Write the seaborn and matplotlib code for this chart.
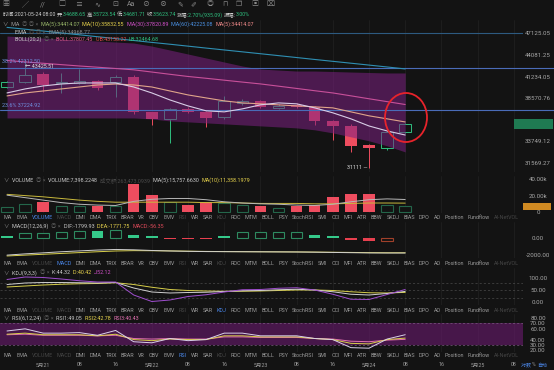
import numpy as np
import pandas as pd
import matplotlib
matplotlib.use("Agg")
import matplotlib.pyplot as plt
import matplotlib.transforms as mtrans
from matplotlib.patches import Ellipse, Rectangle
from matplotlib.ticker import NullLocator, FixedLocator
import seaborn as sns

sns.set_theme(style="dark")
plt.rcParams['font.family'] = ['Roboto', 'Noto Sans CJK SC', 'DejaVu Sans']

# ---------------- data ----------------
opens  = [39930, 40500, 41570, 40430, 40450, 40670, 40500, 41150, 36930, 36180, 37310, 36930,
          36400, 37980, 38250, 37430, 37760, 37550, 35950, 35400, 33390, 33040, 34688.65]
highs  = [40700, 43425.51, 41800, 41690, 42200, 40800, 41500, 41400, 37000, 37450, 37500, 37050,
          38840, 38500, 38400, 37900, 38000, 37700, 36100, 35600, 33500, 34900, 35723.54]
lows   = [39800, 40400, 39320, 39200, 40300, 39600, 38720, 36700, 35510, 33600, 36800, 35290,
          36200, 37800, 37400, 37300, 37400, 35510, 33910, 32660, 31111, 32900, 34681.71]
closes = [40500, 41440, 40180, 40550, 40710, 39850, 41220, 36930, 36180, 37310, 36930, 36280,
          38250, 38290, 37580, 37660, 37550, 35950, 35400, 33280, 33040, 34688.65, 35623.74]

ma5  = [39200, 39690, 40060, 40300, 40430, 40430, 40430, 39930, 39200, 38360, 37660, 37090,
        36970, 37310, 37780, 38010, 37900, 37430, 36860, 36180, 35390, 34850, 34414.07]
ma10 = [38840, 39200, 39440, 39690, 39930, 40180, 40300, 40180, 39930, 39440, 38960, 38600,
        38250, 38010, 37900, 37780, 37660, 37550, 37430, 36970, 36520, 36180, 35832.55]
ma30 = [43340, 43150, 42970, 42790, 42610, 42450, 42280, 42110, 41820, 41530, 41250, 41020,
        40780, 40540, 40310, 40030, 39750, 39470, 39200, 38850, 38500, 38160, 37820.89]
ma60 = [48020, 47750, 47480, 47200, 46930, 46650, 46380, 46110, 45840, 45580, 45310, 45040,
        44780, 44520, 44260, 44000, 43740, 43480, 43230, 42980, 42730, 42480, 42225.08]
boll_upper = [46750, 46610, 46460, 46320, 46180, 46030, 45890, 45750, 45320, 44770, 44220, 43680,
              43140, 42610, 42210, 42080, 41950, 41950, 41890, 41820, 41760, 41700, 41700]
boll_lower = [36280, 36280, 36280, 36280, 36280, 36280, 36280, 36280, 36170, 35950, 35840, 35730,
              35620, 35510, 35400, 35290, 35180, 34970, 34640, 34220, 33800, 33280, 32660]
fib_levels = [47125.05, 42312.50, 37224.92]
price_ticks = [47125.05, 44081.25, 41234.05, 38570.76, 33749.12, 31569.27]
last_price = 35623.74
low_mark = 31111
high_mark = 43425.51

volume_k  = [7.0, 9.9, 12.4, 8.2, 8.2, 8.2, 8.2, 34.2, 21.2, 13.1, 9.1, 12.4,
             11.2, 9.5, 7.5, 5.5, 7.5, 8.5, 18.5, 22.0, 22.0, 8.9, 7.398]
vol_ma5_k  = [21, 18, 15, 12, 10, 9, 8.5, 13.5, 16, 17, 17, 15.5, 13, 11.5, 10.5, 10, 9,
              8.5, 10, 13, 15.5, 16.5, 15.757]
vol_ma10_k = [22, 20.5, 19, 17, 15, 13.5, 12.5, 12.5, 12.5, 12.5, 12.5, 12, 12, 11.5, 11, 11,
              11, 10.5, 10.5, 11, 11.5, 11.5, 11.358]

macd_hist = [165, 510, 590, 710, 790, 790, 920, 380, 210, -90, -90, -90, 210, 640, 640, 640,
             640, 330, 165, -250, -420, -330, -56.35]
macd_hollow = [0, 1, 1, 1, 1, 0, 1, 0, 0, 0, 0, 0, 0, 1, 1, 1, 1, 0, 0, 0, 0, 1, 0]
dif = [-2050, -1900, -1780, -1650, -1550, -1450, -1380, -1420, -1500, -1560, -1600, -1630,
       -1640, -1650, -1660, -1670, -1680, -1700, -1730, -1760, -1790, -1800, -1799.93]
dea = [-2150, -2050, -1950, -1850, -1750, -1650, -1560, -1520, -1530, -1550, -1580, -1610,
       -1630, -1640, -1650, -1660, -1670, -1690, -1710, -1730, -1755, -1770, -1771.75]

k_vals = [72, 78, 80, 80, 79, 78, 80, 58, 42, 38, 40, 41, 44, 47, 48, 51, 53, 50, 43, 33, 30, 36, 44.32]
d_vals = [62, 66, 70, 73, 75, 76, 79, 72, 61, 52, 48, 46, 45, 45, 46, 48, 50, 50, 48, 43, 39, 38, 40.42]
j_vals = [92, 102, 100, 94, 87, 82, 82, 30, 4, 10, 24, 31, 42, 51, 52, 57, 59, 50, 33, 13, 12, 32, 52.12]

rsi1 = [56, 60, 52, 52, 53, 48, 57, 36, 34, 42, 38, 40, 52, 52, 47, 47, 47, 42, 40, 25, 24, 41, 49.05]
rsi2 = [50, 52, 49, 49, 49, 47, 50, 40, 38, 41, 40, 40, 47, 47, 45, 45, 45, 42, 40, 33, 32, 40, 42.78]
rsi3 = [49, 50, 48, 48, 48, 47, 48, 42, 41, 42, 41, 41, 45, 45, 44, 44, 44, 42, 41, 37, 36, 39, 40.43]

date_labels = ["5月21", "08", "16", "5月22", "08", "16", "5月23", "08", "16",
               "5月24", "08", "16", "5月25", "08"]
date_pos = [2, 4, 6, 8, 10, 12, 14, 16, 18, 20, 22, 24, 26, 28]

tab_names = ['MA', 'EMA', 'VOLUME', 'MACD', 'DMI', 'DMA', 'TRIX', 'BRAR', 'VR', 'OBV', 'EMV',
             'RSI', 'WR', 'SAR', 'KDJ', 'ROC', 'MTM', 'BOLL', 'PSY', 'StochRSI', 'SMI', 'CCI',
             'MFI', 'ATR', 'BBW', 'SKDJ', 'BIAS', 'DPO', 'AO', 'Position', 'Fundflow', 'AI-NetVOL']

df = pd.DataFrame({"i": np.arange(len(closes)), "open": opens, "high": highs, "low": lows,
                   "close": closes, "ma5": ma5, "ma10": ma10, "ma30": ma30, "ma60": ma60,
                   "up": boll_upper, "lo": boll_lower, "vol": volume_k,
                   "vma5": vol_ma5_k, "vma10": vol_ma10_k, "hist": macd_hist,
                   "hollow": macd_hollow, "dif": dif, "dea": dea, "k": k_vals,
                   "d": d_vals, "j": j_vals, "r1": rsi1, "r2": rsi2, "r3": rsi3})
df["rise"] = df["close"] >= df["open"]

# ---------------- style ----------------
W, H = 554, 370
BG = "#131313"
RED = "#ee4d5f"
GREEN = "#2fbf7f"
GREEN_DIM = "#24664a"
AXTXT = "#a8a8a8"
FS = 3.9
AXFS = 4.4
XL = (-7 / 18.1, (523 - 7) / 18.1)

fig = plt.figure(figsize=(W / 100, H / 100), dpi=100, facecolor=BG)
renderer = fig.canvas.get_renderer()


def add_ax(y0, y1, x0=0, x1=523):
    a = fig.add_axes([x0 / W, 1 - y1 / H, (x1 - x0) / W, (y1 - y0) / H])
    a.set_facecolor(BG)
    for s in a.spines.values():
        s.set_visible(False)
    a.set_xlim(*XL)
    a.yaxis.tick_right()
    a.tick_params(axis='y', length=0, pad=10.8, labelsize=AXFS, labelcolor=AXTXT)
    a.tick_params(axis='x', length=0, labelbottom=False)
    a.set_xticks(date_pos)
    a.grid(axis='x', color="#222222", lw=0.5)
    a.grid(axis='y', visible=False)
    a.set_xlabel("")
    a.set_ylabel("")
    return a


def center_labels(a):
    for lab in a.get_yticklabels():
        lab.set_horizontalalignment("center")


def ftext(x, y, s, color="#c8c8c8", size=FS, ha="left", **kw):
    return fig.text(x / W, 1 - y / H, s, color=color, fontsize=size, ha=ha, va="center", **kw)


def seq(x, y, segs, size=FS):
    """draw text segments one after another, each starting where the previous ended"""
    for s, c in segs:
        t = ftext(x, y, s, color=c, size=size)
        bb = t.get_window_extent(renderer=renderer)
        x = bb.x1


def justified(y, items, x0, x1, size=FS):
    """spread labels evenly between x0 and x1 (like a flex row)"""
    texts = [ftext(0, y, s, color=c, size=size) for s, c in items]
    widths = [t.get_window_extent(renderer=renderer).width for t in texts]
    gap = (x1 - x0 - sum(widths)) / (len(texts) - 1)
    x = x0
    for t, w in zip(texts, widths):
        t.set_x(x / W)
        x += w + gap


# ---------------- main price panel ----------------
ax = add_ax(20, 172)
ax.set_yscale('log')
ax.set_ylim(30690, 49130)
ax.yaxis.set_minor_locator(NullLocator())
ax.yaxis.set_major_locator(FixedLocator(price_ticks))
ax.set_yticklabels([f"{v:.2f}" for v in price_ticks])
center_labels(ax)

for _, r in df.iterrows():
    col = GREEN if r["rise"] else RED
    ax.vlines(r["i"], r["low"], r["high"], color=col, lw=0.7, zorder=2)
    lo_b, hi_b = min(r["open"], r["close"]), max(r["open"], r["close"])
    if r["rise"]:
        ax.bar(r["i"], hi_b - lo_b, bottom=lo_b, width=0.64, facecolor=BG,
               edgecolor=col, lw=0.7, zorder=2.5)
    else:
        ax.bar(r["i"], hi_b - lo_b, bottom=lo_b, width=0.64, color=col, lw=0, zorder=2.5)

ax.fill_between(df["i"], df["lo"], df["up"], color="#7c2082", alpha=0.55, lw=0, zorder=3)

sns.lineplot(data=df, x="i", y="ma60", ax=ax, color="#2f8fb3", lw=0.8, zorder=4, legend=False)
sns.lineplot(data=df, x="i", y="ma30", ax=ax, color="#c8509a", lw=0.8, zorder=4, legend=False)
sns.lineplot(data=df, x="i", y="ma10", ax=ax, color="#e0a58a", lw=0.8, zorder=4, legend=False)
sns.lineplot(data=df, x="i", y="ma5", ax=ax, color="#d8cde6", lw=0.8, zorder=4, legend=False)
ax.set_xlabel(""); ax.set_ylabel("")

fibc = "#4a6cb8"
ax.axhline(fib_levels[0], color="#2d5a80", lw=0.8, zorder=3.5)
for lv in fib_levels[1:]:
    ax.plot([0, W / 523], [lv, lv], transform=ax.get_yaxis_transform(), color=fibc,
            lw=0.8, zorder=3.5, clip_on=False)
ax.text(0.004, fib_levels[1] * 1.012, "38.2% 42312.50", transform=ax.get_yaxis_transform(),
        color="#6f8fe0", fontsize=FS, va="bottom", zorder=6)
ax.text(0.004, fib_levels[2] * 1.006, "23.6% 37224.92", transform=ax.get_yaxis_transform(),
        color="#6f8fe0", fontsize=FS, va="bottom", zorder=6)
ax.text(1.0, high_mark * 0.981, "← " + f"{high_mark:.2f}", color="#e0e0e0", fontsize=FS,
        va="center", zorder=6)
ax.text(19.9, low_mark * 1.0, f"{low_mark} —", color="#e0e0e0", fontsize=FS, va="center",
        ha="right", zorder=6)

# current price tag
fig.patches.append(Rectangle((514 / W, 1 - 128.5 / H), 39 / W, 9.5 / H, transform=fig.transFigure,
                             facecolor="#1f7a52", edgecolor="none", zorder=5))
ftext(533.5, 124, f"{last_price:.2f}", color="#eaeaea", size=AXFS, ha="center")

# red circle highlight
fig.patches.append(Ellipse((406 / W, 1 - 117.5 / H), 42 / W, 49 / H, transform=fig.transFigure,
                           fill=False, edgecolor="#e8232b", lw=1.3, zorder=6))

# ---------------- volume ----------------
axv = add_ax(176, 213)
axv.set_ylim(-0.61, 44.24)
axv.set_yticks([0, 20, 40])
axv.set_yticklabels(["0", "20.00k", "40.00k"])
center_labels(axv)
for _, r in df.iterrows():
    if r["rise"]:
        axv.bar(r["i"], r["vol"], width=0.64, facecolor=BG, edgecolor=GREEN_DIM, lw=0.8)
    else:
        axv.bar(r["i"], r["vol"], width=0.64, color=RED, lw=0)
sns.lineplot(data=df, x="i", y="vma10", ax=axv, color="#c9b93c", lw=0.7, legend=False)
sns.lineplot(data=df, x="i", y="vma5", ax=axv, color="#b8b8b8", lw=0.7, legend=False)
axv.set_xlabel(""); axv.set_ylabel("")
fig.patches.append(Rectangle((523 / W, 1 - 209.5 / H), 28 / W, 7 / H, transform=fig.transFigure,
                             facecolor="#d08a22", edgecolor="none", zorder=5))
ftext(537, 206, "7.4k", color="#ffffff", size=AXFS, ha="center")

# ---------------- MACD ----------------
axm = add_ax(222, 258)
axm.set_ylim(-2390, 1870)
axm.set_yticks([0, -2000])
axm.set_yticklabels(["0.00", "-2000.00"])
center_labels(axm)
for _, r in df.iterrows():
    col = "#35c98a" if r["hist"] >= 0 else "#e8404f"
    if r["hollow"]:
        axm.bar(r["i"], r["hist"], width=0.64, facecolor=BG,
                edgecolor=("#2e8a60" if r["hist"] >= 0 else "#a0402a"), lw=0.8)
    else:
        axm.bar(r["i"], r["hist"], width=0.64, color=col, lw=0)
sns.lineplot(data=df, x="i", y="dea", ax=axm, color="#d8cf4a", lw=0.7, legend=False)
sns.lineplot(data=df, x="i", y="dif", ax=axm, color="#cfcfcf", lw=0.7, legend=False)
axm.set_xlabel(""); axm.set_ylabel("")

# ---------------- KDJ ----------------
axk = add_ax(268, 305)
axk.set_ylim(-10, 138)
axk.set_yticks([0, 50, 100])
axk.set_yticklabels(["0.00", "50.00", "100.00"])
center_labels(axk)
for lv in [20, 50, 80]:
    axk.axhline(lv, color="#4a4a4a", lw=0.5, ls=(0, (3, 3)))
sns.lineplot(data=df, x="i", y="d", ax=axk, color="#d8cf4a", lw=0.7, legend=False)
sns.lineplot(data=df, x="i", y="k", ax=axk, color="#d0d0d0", lw=0.7, legend=False)
sns.lineplot(data=df, x="i", y="j", ax=axk, color="#a04fd0", lw=0.7, legend=False)
axk.set_xlabel(""); axk.set_ylabel("")

# ---------------- RSI ----------------
axr = add_ax(314, 352)
axr.set_ylim(16.9, 87.6)
axr.set_yticks([20, 30, 40, 60, 70, 80])
axr.set_yticklabels(["20.00", "30.00", "40.00", "60.00", "70.00", "80.00"])
center_labels(axr)
axr.axhspan(30, 70, color="#6a1a70", alpha=0.6, lw=0)
for lv in [30, 70]:
    axr.axhline(lv, color="#7a5a80", lw=0.5, ls=(0, (3, 3)))
sns.lineplot(data=df, x="i", y="r3", ax=axr, color="#e070b0", lw=0.7, legend=False)
sns.lineplot(data=df, x="i", y="r2", ax=axr, color="#d8cf4a", lw=0.7, legend=False)
sns.lineplot(data=df, x="i", y="r1", ax=axr, color="#d9d0ea", lw=0.7, legend=False)
axr.set_xlabel(""); axr.set_ylabel("")

# date labels
tr = mtrans.blended_transform_factory(axr.transData, fig.transFigure)
for p, lab in zip(date_pos, date_labels):
    fig.text(p, 1 - 365 / H, lab, transform=tr, color="#9a9a9a", fontsize=FS, ha="center",
             va="center")
seq(521, 365, [("对数 ", "#4a86e8"), ("% ", "#9a9a9a"), ("自动", "#4a86e8")], size=3.6)

# ---------------- tab rows ----------------
rows = [(217.5, 'VOLUME', ['MACD', 'RSI', 'KDJ', 'AI-NetVOL']),
        (263.5, 'MACD', ['VOLUME', 'RSI', 'KDJ', 'AI-NetVOL']),
        (310, 'KDJ', ['VOLUME', 'MACD', 'RSI', 'AI-NetVOL']),
        (355.5, 'RSI', ['VOLUME', 'MACD', 'KDJ', 'AI-NetVOL'])]
for y, act, dis in rows:
    items = [(nm, "#4a86e8" if nm == act else ("#454545" if nm in dis else "#9a9a9a"))
             for nm in tab_names]
    justified(y, items, 4, 519)

# ---------------- headers ----------------
icons = ["▦", "╱", "//", "□", "≡", "∿", "⊡", "Aa", "⊘", "⊗", "✎", "✐", "◎", "⊓", "❐", "▣", "⌧"]
icon_x = [6, 25, 43, 62, 79, 97, 115, 131, 146, 163, 180, 193, 210, 225, 239, 255, 271]
for s, xx in zip(icons, icon_x):
    ftext(xx, 5, s, color="#8a8a8a", size=5, ha="center")

WT = "#d0d0d0"
GV = "#2fbf7f"
seq(3, 15, [("时间:2021-05-24 08:00 ", WT), ("开:", WT), ("34688.65 ", GV),
            ("高:", WT), ("35723.54 ", GV), ("低:", WT), ("34681.71 ", GV),
            ("收:", WT), ("35623.74 ", GV), ("涨幅:", WT), ("2.70%(935.09) ", GV),
            ("振幅:", WT), ("3.00%", GV)], size=3.8)

seq(3, 24, [("∨  MA  ", "#9a9a9a"), ("◎ ◎ ×  ", "#5a5a5a"), ("MA(5):34414.07  ", "#9ab86a"),
            ("MA(10):35832.55  ", "#e8d44d"), ("MA(30):37820.89  ", "#d050c8"),
            ("MA(60):42225.08  ", "#4a90e2"), ("MA(5):34414.07", "#f08a8a")])
seq(15, 32, [("EMA  ", "#c8c8c8"), ("◎ ◎ ×  ", "#5a5a5a"), ("EMA(5):34968.77", "#8a8a8a")])
seq(15, 39.5, [("BOLL(20,2)  ", "#c8c8c8"), ("◎ ×  ", "#5a5a5a"),
               ("BOLL:37807.45  ", "#e05a8a"), ("UB:43150.22  ", "#e04a4a"),
               ("LB:32464.68", "#2fbf7f")])

seq(4, 180.5, [("∨  ", "#8a8a8a"), ("VOLUME  ", "#c8c8c8"), ("◎ ×  ", "#5a5a5a"),
               ("VOLUME:7,398.2248  ", "#c8c8c8"), ("成交额:263,473.0939  ", "#4a4a4a"),
               ("MA(5):15,757.6630  ", "#c8c8c8"), ("MA(10):11,358.1979", "#e8d44d")])
seq(4, 226.5, [("∨  ", "#8a8a8a"), ("MACD(12,26,9)  ", "#c8c8c8"), ("◎ ×  ", "#5a5a5a"),
               ("DIF:-1799.93  ", "#c8c8c8"), ("DEA:-1771.75  ", "#e8d44d"),
               ("MACD:-56.35", "#e04a5a")])
seq(4, 273, [("∨  ", "#8a8a8a"), ("KDJ(9,3,3)  ", "#c8c8c8"), ("◎ ×  ", "#5a5a5a"),
             ("K:44.32  ", "#c8c8c8"), ("D:40.42  ", "#e8d44d"), ("J:52.12", "#d050c8")])
seq(4, 318, [("∨  ", "#8a8a8a"), ("RSI(6,12,24)  ", "#c8c8c8"), ("◎ ×  ", "#5a5a5a"),
             ("RSI1:49.05  ", "#c8c8c8"), ("RSI2:42.78  ", "#e8d44d"),
             ("RSI3:40.43", "#e070b0")])

fig.savefig("out.png", dpi=100, facecolor=BG)
